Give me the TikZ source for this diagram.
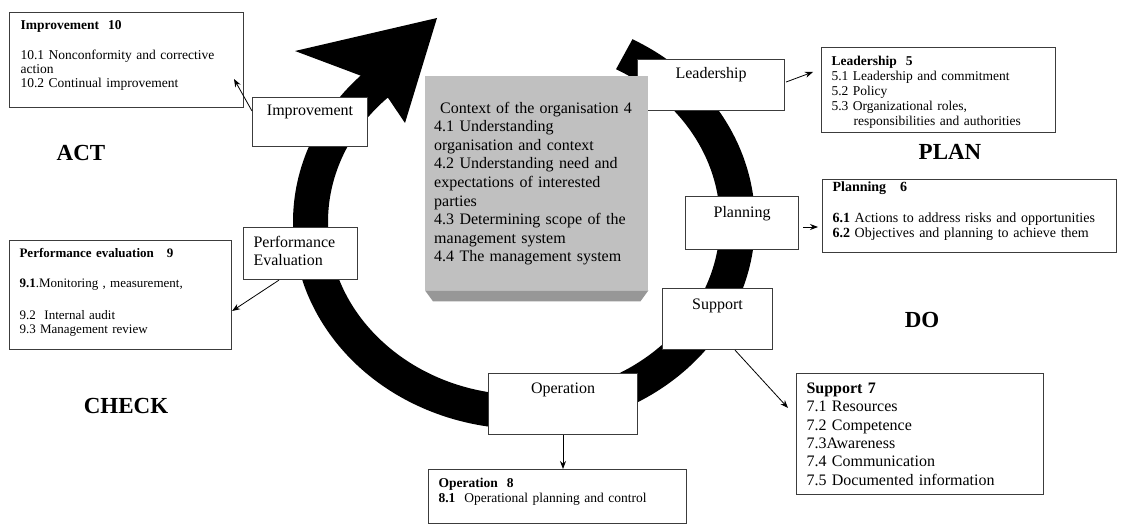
\documentclass[tikz,border=0pt]{standalone}
\usepackage{fontspec}
\setmainfont{Liberation Serif}
\usetikzlibrary{arrows.meta,calc}
\newcommand{\fs}[2]{\fontsize{#1}{#2}\selectfont}
\definecolor{boxline}{HTML}{3C3C3C}
\definecolor{facegray}{HTML}{C0C0C0}
\definecolor{bevelgray}{HTML}{979797}
\begin{document}
\begin{tikzpicture}[x=1pt,y=-1pt,
  bx/.style={draw=boxline, fill=white, line width=1.1pt, inner ysep=0pt, anchor=north west, align=left},
  lbl/.style={bx, align=center, inner xsep=0pt, font=\fs{16}{18}},
  arr/.style={-{Stealth[length=8pt,width=6pt]}, line width=0.8pt},
  pdca/.style={font=\fs{23}{23}\bfseries}
]
\useasboundingbox (0,0) rectangle (1122,526);
\fill[white] (0,0) rectangle (1122,526);

% circular arrow
\coordinate (C) at (524,222);
\fill[black] ($(C)+(-62:231 and 207)$) arc[start angle=-62, end angle=225, x radius=231, y radius=207]
  -- (295,51) -- (437,18) -- (405,123)
  -- ($(C)+(226:196 and 173)$) arc[start angle=226, end angle=-62, x radius=196, y radius=173] -- cycle;

% side boxes
\node[bx, font=\fs{13.5}{14}, text width=212pt, inner xsep=11pt, text height=16.9pt, text depth=78.1pt] (imp10) at (9,12)
  {\textbf{Improvement\ \ 10}\\[16pt] 10.1 Nonconformity and corrective\\ action\\ 10.2 Continual improvement};
\node[lbl, text width=115pt, text height=17.8pt, text depth=31.2pt] (imp) at (252,97) {Improvement};

\node[bx, font=\fs{16}{18}, text width=94pt, inner xsep=10pt, text height=19.8pt, text depth=32.2pt] (pe) at (243,227)
  {Performance\\Evaluation};
\node[bx, font=\fs{13}{14}, text width=202pt, inner xsep=10pt, text height=16.9pt, text depth=92.1pt] (pe9) at (9,240)
  {\textbf{Performance evaluation\ \ \ 9}\\[16pt] \textbf{9.1}.Monitoring ,\ measurement,\\[18pt] 9.2\ \ Internal audit\\ 9.3 Management review};

\node[lbl, text width=147pt, text height=18.8pt, text depth=32.2pt] (lead) at (637,59) {Leadership};
\node[bx, font=\fs{13.5}{15}, text width=214pt, inner xsep=10pt, text height=18pt, text depth=67pt] (lead5) at (821,47)
  {\textbf{Leadership\ \ 5}\\ 5.1 Leadership and commitment\\ 5.2 Policy\\ 5.3 Organizational roles,\\ \hspace*{22pt}responsibilities and authorities};

\node[lbl, text width=113pt, text height=20.8pt, text depth=32.2pt] (plan) at (685,196) {Planning};
\node[bx, font=\fs{14}{15.5}, text width=274pt, inner xsep=10pt, text height=12pt, text depth=61pt] (plan6) at (822,179)
  {\textbf{Planning\ \ \ 6}\\[15pt] \textbf{6.1} Actions to address risks and opportunities\\ \textbf{6.2} Objectives and planning to achieve them};

\node[lbl, text width=110pt, text height=20.8pt, text depth=40.2pt] (sup) at (662,288) {Support};
\node[bx, font=\fs{16}{18.4}, text width=227pt, inner xsep=10pt, text height=19.8pt, text depth=101.2pt] (sup7) at (796,373)
  {\textbf{Support 7}\\ 7.1 Resources\\ 7.2 Competence\\ 7.3Awareness\\ 7.4 Communication\\ 7.5 Documented information};

\node[lbl, text width=149pt, text height=19.8pt, text depth=41.2pt] (op) at (488,373) {Operation};
\node[bx, font=\fs{13.5}{15}, text width=238pt, inner xsep=10pt, text height=18pt, text depth=36pt] (op8) at (428,469)
  {\textbf{Operation\ \ 8}\\ \textbf{8.1}\ \ Operational planning and control};

% centre block
\node[fill=facegray, anchor=north west, inner xsep=9pt, inner ysep=0pt, text width=205pt, text height=37pt, text depth=177pt, align=left, font=\fs{16}{18.6}] (ctx) at (425,76)
  {\hspace*{6pt}Context of the organisation 4\\ 4.1 Understanding\\ organisation and context\\ 4.2 Understanding need and\\ expectations of interested\\ parties\\ 4.3 Determining scope of the\\ management system\\ 4.4 The management system};
\fill[bevelgray] (ctx.south west) -- (ctx.south east) -- ++(-8,11) -- ($(ctx.south west)+(8,11)$) -- cycle;

% connectors
\coordinate (impEnd) at (234,79);
\coordinate (leadEnd) at (813,72);
\draw[arr] ($(imp.north west)+(0,14)$) -- (impEnd);
\draw[arr] ($(pe.south west)+(36,0)$) -- ($(pe9.north east)+(0,71)$);
\draw[arr] ($(lead.north east)+(1,23)$) -- (leadEnd);
\draw[arr] ($(plan.north east)+(4,31)$) -- ($(plan6.north west)+(-4,48)$);
\draw[arr] ($(sup.south west)+(73,0)$) -- ($(sup7.north west)+(-8,35)$);
\draw[arr] ($(op.south west)+(75,0)$) -- ($(op8.north west)+(135,0)$);

% PDCA labels
\node[pdca] (act) at (81,153) {ACT};
\node[pdca] (planlbl) at (950,152) {PLAN};
\node[pdca] (do) at (922,320) {DO};
\node[pdca] (check) at (126,406) {CHECK};
\end{tikzpicture}
\end{document}
